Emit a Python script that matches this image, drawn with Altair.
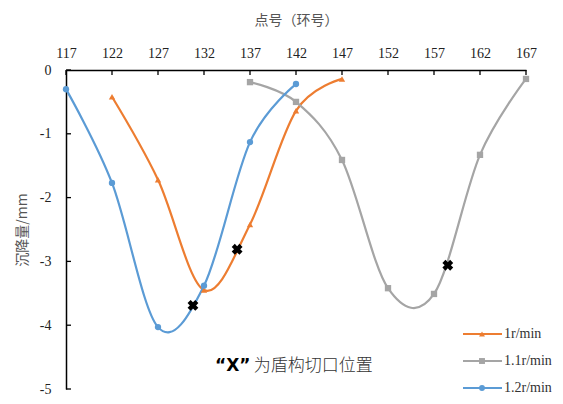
import altair as alt
import pandas as pd

x_ticks = [117, 122, 127, 132, 137, 142, 147, 152, 157, 162, 167]
y_ticks = [0, -1, -2, -3, -4, -5]
series_names = ["1r/min", "1.1r/min", "1.2r/min"]
colors = ["#ED7D31", "#A5A5A5", "#5B9BD5"]
shapes = ["triangle-up", "square", "circle"]

ring_1r = [122, 127, 132, 137, 142, 147]
settle_1r = [-0.42, -1.72, -3.45, -2.42, -0.64, -0.14]
ring_11r = [137, 142, 147, 152, 157, 162, 167]
settle_11r = [-0.19, -0.50, -1.41, -3.42, -3.51, -1.33, -0.14]
ring_12r = [117, 122, 127, 132, 137, 142]
settle_12r = [-0.30, -1.77, -4.03, -3.38, -1.13, -0.22]

cut_ring = [130.8, 135.6, 158.5]
cut_settle = [-3.69, -2.81, -3.06]

note_mark = "“X”"
note_text = "为盾构切口位置"

rows = []
for name, xs, ys in [(series_names[0], ring_1r, settle_1r),
                     (series_names[1], ring_11r, settle_11r),
                     (series_names[2], ring_12r, settle_12r)]:
    for a, b in zip(xs, ys):
        rows.append({"series": name, "ring": a, "settle": b})
df = pd.DataFrame(rows)

cut_df = pd.DataFrame({"ring": cut_ring, "settle": cut_settle})
xt_df = pd.DataFrame({"ring": x_ticks})
yt_df = pd.DataFrame({"settle": y_ticks})
leg_df = pd.DataFrame({"series": series_names})

SERIF = "Liberation Serif"
CJK = "Noto Sans CJK SC"

xscale = alt.Scale(domain=[117, 167], nice=False, zero=False)
yscale = alt.Scale(domain=[-5, 0], nice=False)
cscale = alt.Scale(domain=series_names, range=colors)
sscale = alt.Scale(domain=series_names, range=shapes)

x_enc = alt.X("ring:Q", scale=xscale,
              axis=alt.Axis(orient="top", values=x_ticks, title="点号（环号）",
                            ticks=False, labelPadding=10, titlePadding=19,
                            labelFlush=False))
y_enc = alt.Y("settle:Q", scale=yscale,
              axis=alt.Axis(values=y_ticks, title="沉降量/mm", ticks=False,
                            labelPadding=15, titlePadding=10,
                            labelExpr="'' + datum.value"))

lines = alt.Chart(df).mark_line(interpolate="cardinal", strokeWidth=2.2).encode(
    x=x_enc, y=y_enc,
    color=alt.Color("series:N", scale=cscale, legend=None),
    detail="series:N",
    order="ring:Q",
)
points = alt.Chart(df).mark_point(filled=True, size=40, opacity=1).encode(
    x=alt.X("ring:Q", scale=xscale),
    y=alt.Y("settle:Q", scale=yscale),
    color=alt.Color("series:N", scale=cscale, legend=None),
    shape=alt.Shape("series:N", scale=sscale, legend=None),
)
cuts = alt.Chart(cut_df).mark_point(shape="cross", angle=45, filled=True, size=120,
                                     color="#000000", opacity=1).encode(
    x=alt.X("ring:Q", scale=xscale),
    y=alt.Y("settle:Q", scale=yscale),
)
xticks_l = alt.Chart(xt_df).mark_rule(color="#000000", strokeWidth=1.3).encode(
    x=alt.X("ring:Q", scale=xscale), y=alt.value(0), y2=alt.value(5))
yticks_l = alt.Chart(yt_df).mark_rule(color="#000000", strokeWidth=1.3).encode(
    y=alt.Y("settle:Q", scale=yscale), x=alt.value(0), x2=alt.value(5))

note1 = alt.Chart(pd.DataFrame({"t": [note_mark]})).mark_text(
    align="left", baseline="middle", font="DejaVu Sans", fontWeight="bold",
    fontSize=17, color="#000000").encode(
    x=alt.datum(133.2, scale=xscale), y=alt.datum(-4.64, scale=yscale), text="t:N")
note2 = alt.Chart(pd.DataFrame({"t": [note_text]})).mark_text(
    align="left", baseline="middle", font=CJK, fontSize=17, fontWeight=300,
    color="#333333").encode(
    x=alt.datum(137.4, scale=xscale), y=alt.datum(-4.64, scale=yscale), text="t:N")

main = alt.layer(lines, points, cuts, xticks_l, yticks_l, note1, note2)

lscale_y = alt.Scale(domain=series_names, range=[264, 318], type="point", padding=0)
leg_rule = alt.Chart(leg_df).mark_rule(strokeWidth=2.2).encode(
    y=alt.Y("series:N", scale=lscale_y, axis=None),
    x=alt.value(397), x2=alt.value(436),
    color=alt.Color("series:N", scale=cscale, legend=None),
)
leg_pt = alt.Chart(leg_df).mark_point(filled=True, size=35, opacity=1).encode(
    y=alt.Y("series:N", scale=lscale_y, axis=None),
    x=alt.value(416),
    color=alt.Color("series:N", scale=cscale, legend=None),
    shape=alt.Shape("series:N", scale=sscale, legend=None),
)
leg_txt = alt.Chart(leg_df).mark_text(align="left", baseline="middle", font=SERIF,
                                      fontSize=14, color="#333333").encode(
    y=alt.Y("series:N", scale=lscale_y, axis=None),
    x=alt.value(438),
    text="series:N",
)
legend = alt.layer(leg_rule, leg_pt, leg_txt)

chart = alt.layer(main, legend).resolve_scale(y="independent").properties(
    width=460, height=319,
    autosize=alt.AutoSizeParams(type="none"),
    padding={"left": 58, "top": 62, "right": 29, "bottom": 7},
    background="#ffffff",
).configure_view(stroke=None).configure_axis(
    labelFont=SERIF, labelFontSize=14, labelColor="#222222",
    titleFont=CJK, titleFontSize=14, titleFontWeight="normal", titleColor="#555555",
    domainColor="#000000", domainWidth=1.5, grid=False,
)

chart.save("out.html", embed_options={"renderer": "svg", "actions": False})
